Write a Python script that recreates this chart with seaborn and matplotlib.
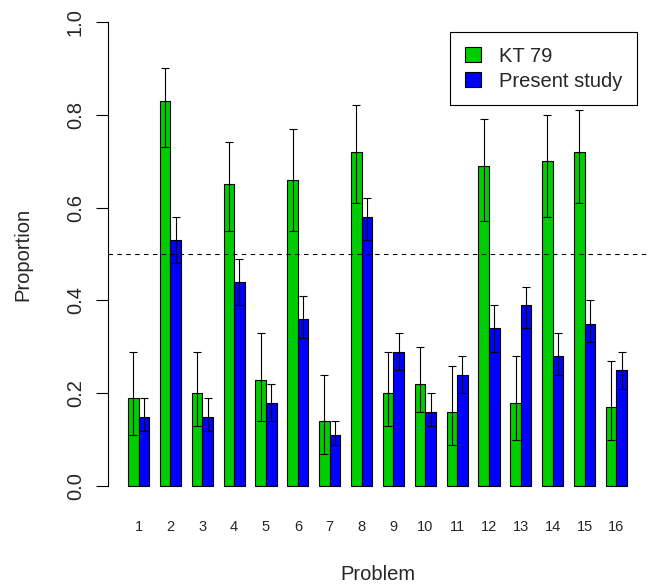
import numpy as np
import pandas as pd
import seaborn as sns
import matplotlib
matplotlib.use("Agg")
import matplotlib.pyplot as plt

# values
problems = [str(i) for i in range(1, 17)]
kt79 = [0.19, 0.83, 0.20, 0.65, 0.23, 0.66, 0.14, 0.72,
        0.20, 0.22, 0.16, 0.69, 0.18, 0.70, 0.72, 0.17]
kt79_lo = [0.11, 0.73, 0.13, 0.55, 0.14, 0.55, 0.07, 0.61,
           0.13, 0.16, 0.09, 0.57, 0.10, 0.58, 0.61, 0.10]
kt79_hi = [0.29, 0.90, 0.29, 0.74, 0.33, 0.77, 0.24, 0.82,
           0.29, 0.30, 0.26, 0.79, 0.28, 0.80, 0.81, 0.27]
present = [0.15, 0.53, 0.15, 0.44, 0.18, 0.36, 0.11, 0.58,
           0.29, 0.16, 0.24, 0.34, 0.39, 0.28, 0.35, 0.25]
present_lo = [0.12, 0.48, 0.12, 0.39, 0.14, 0.32, 0.09, 0.53,
              0.25, 0.13, 0.20, 0.29, 0.34, 0.24, 0.31, 0.21]
present_hi = [0.19, 0.58, 0.19, 0.49, 0.22, 0.41, 0.14, 0.62,
              0.33, 0.20, 0.28, 0.39, 0.43, 0.33, 0.40, 0.29]
series = ["KT 79", "Present study"]
colors = ["#00CD00", "#0000FF"]

df = pd.DataFrame({
    "Problem": problems * 2,
    "Proportion": kt79 + present,
    "Study": [series[0]] * 16 + [series[1]] * 16,
})

sns.set_style("white")
plt.rcParams["font.family"] = ["Liberation Sans", "DejaVu Sans"]

fig = plt.figure(figsize=(6.49, 5.84), dpi=100)
ax = fig.add_axes([108 / 649, (584 - 505) / 584, (647 - 108) / 649, (505 - 3) / 584])

sns.barplot(data=df, x="Problem", y="Proportion", hue="Study", order=problems,
            hue_order=series, palette=colors, saturation=1, width=2 / 3, gap=0,
            edgecolor="black", linewidth=0.8, errorbar=None, ax=ax)

# error bars at the centres of the drawn bars
bars = [p for p in ax.patches if p.get_height() > 0]
bars = sorted(bars, key=lambda p: p.get_x())
vals = []
lows = []
highs = []
for i in range(16):
    vals += [kt79[i], present[i]]
    lows += [kt79_lo[i], present_lo[i]]
    highs += [kt79_hi[i], present_hi[i]]
xs = [p.get_x() + p.get_width() / 2 for p in bars]
yerr = np.array([np.array(vals) - np.array(lows), np.array(highs) - np.array(vals)])
ax.errorbar(xs, vals, yerr=yerr, fmt="none", ecolor="black", elinewidth=0.8,
            capsize=2.6, capthick=0.8)

ax.axhline(0.5, color="black", lw=0.8, ls=(0, (4, 4)))

ax.set_xlim(-0.96, 15.96)
ax.set_ylim(-0.04, 1.04)
ax.set_yticks([0, 0.2, 0.4, 0.6, 0.8, 1.0])
ax.set_yticklabels(["0.0", "0.2", "0.4", "0.6", "0.8", "1.0"], rotation=90,
                   va="center", fontsize=14.5)
ax.tick_params(axis="y", length=8.6, width=0.8, pad=8, left=True, color="black")
ax.tick_params(axis="x", length=0, pad=11, labelsize=10.5)
for s in ["top", "right", "bottom"]:
    ax.spines[s].set_visible(False)
ax.spines["left"].set_bounds(0, 1)
ax.spines["left"].set_color("black")
ax.spines["left"].set_linewidth(0.8)

ax.set_xlabel("Problem", fontsize=14.5, labelpad=22)
ax.set_ylabel("Proportion", fontsize=14.5, labelpad=24)

ax.legend(loc="upper right", bbox_to_anchor=(637 / 649, 1 - 32 / 584),
          bbox_transform=fig.transFigure, fontsize=14.5, frameon=True,
          fancybox=False, edgecolor="black", framealpha=1, borderaxespad=0,
          handlelength=0.8, handleheight=0.8, handletextpad=0.9,
          labelspacing=0.3, borderpad=0.72)
ax.get_legend().get_frame().set_linewidth(0.8)

fig.savefig("out.png", dpi=100)
